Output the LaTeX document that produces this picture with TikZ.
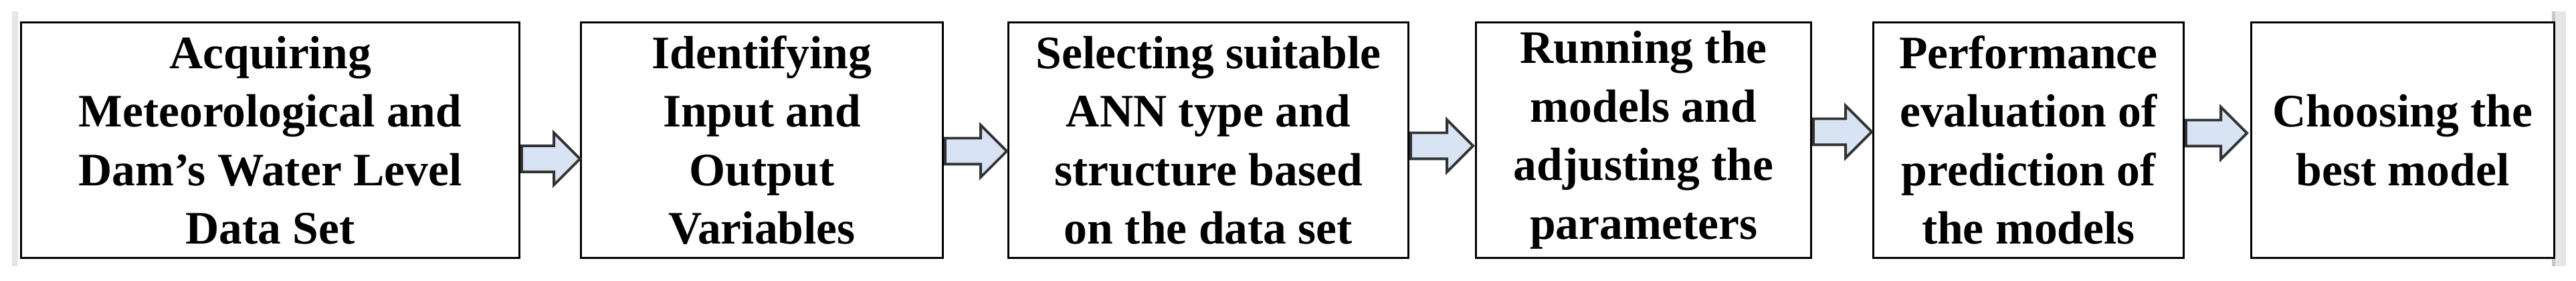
\documentclass[tikz,border=0pt]{standalone}
\usepackage{fontspec}
\setmainfont{Liberation Serif}
\usepackage{xcolor}
\usepackage{tikz}
\usetikzlibrary{shapes.arrows,calc}
\definecolor{edge}{HTML}{000000}
\definecolor{arrfill}{HTML}{D8E4F4}
\definecolor{arredge}{HTML}{333333}
\definecolor{band}{HTML}{E6E6E6}
\definecolor{bandedge}{HTML}{C8C8C8}
\tikzset{
  stage/.style={draw=edge, line width=0.9pt, fill=white, minimum height=3.52cm,
    align=center, inner sep=2pt, font=\bfseries\fontsize{19.8}{24.9}\selectfont},
  flowarr/.style={single arrow, draw=arredge, fill=arrfill, line width=1.1pt,
    inner xsep=0pt, inner ysep=0.175cm, minimum width=0.74cm,
    single arrow head extend=0.195cm, anchor=tail}
}

\begin{document}
\begin{tikzpicture}
  \useasboundingbox (0,0) rectangle (38.51,4.2);
  \fill[band] (0.18,0.22) rectangle (0.27,4.03);
  \fill[band] (38.15,0.22) rectangle (38.36,4.03);
  \fill[bandedge] (38.15,0.22) rectangle (38.20,4.03);

  \node[stage, minimum width=7.45cm] (s1) at (4.04,2.105)
    {Acquiring\\Meteorological and\\Dam’s Water Level\\Data Set};
  \node[stage, minimum width=5.41cm] (s2) at (11.39,2.105)
    {Identifying\\Input and\\Output\\Variables};
  \node[stage, minimum width=5.98cm] (s3) at (18.065,2.105)
    {Selecting suitable\\ANN type and\\structure based\\on the data set};
  \node[stage, minimum width=5.01cm] (s4) at (24.57,2.105)
    {Running the\\models and\\adjusting the\\parameters};
  \node[stage, minimum width=4.64cm] (s5) at (30.325,2.105)
    {Performance\\evaluation of\\prediction of\\the models};
  \node[stage, minimum width=4.53cm] (s6) at (35.92,2.105)
    {Choosing the\\best model};

  \node[flowarr, minimum height=0.87cm] (a1) at ($(s1.east)+(0,-0.28)$) {};
  \node[flowarr, minimum height=0.92cm] (a2) at ($(s2.east)+(0,-0.165)$) {};
  \node[flowarr, minimum height=0.93cm] (a3) at ($(s3.east)+(0,-0.085)$) {};
  \node[flowarr, minimum height=0.87cm] (a4) at ($(s4.east)+(0,0.125)$) {};
  \node[flowarr, minimum height=0.91cm] (a5) at ($(s5.east)+(0,0.105)$) {};
\end{tikzpicture}
\end{document}
